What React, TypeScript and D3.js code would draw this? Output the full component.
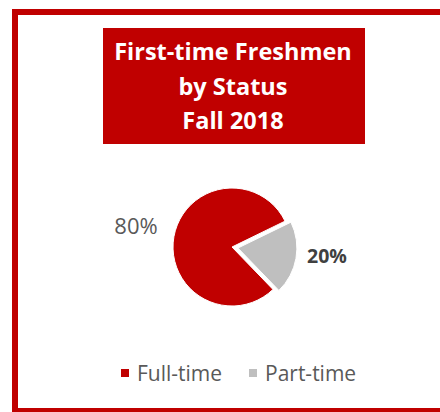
import React from "react";
import * as d3 from "d3";

const categories = ["Full-time", "Part-time"];
const values = [80, 20];
const labels = ["80%", "20%"];
const colors = ["#C00000", "#BFBFBF"];
const titleLines = ["First-time Freshmen", "by Status", "Fall 2018"];

const FONT = "'Open Sans', sans-serif";

export default function App() {
  const cx = 232;
  const cy = 247;
  const r = 59;
  const pie = d3
    .pie<number>()
    .sort(null)
    .startAngle((136 * Math.PI) / 180)
    .endAngle((136 * Math.PI) / 180 + 2 * Math.PI);
  const arcs = pie(values);
  const arc = d3.arc<d3.PieArcDatum<number>>().innerRadius(0).outerRadius(r);
  const explode = [0, 6];

  const labelPos = [
    { x: 136, y: 225, weight: 400, fill: "#595959", size: 22 },
    { x: 327, y: 255, weight: 700, fill: "#404040", size: 19.5 },
  ];

  const legendX = [121, 249];
  return (
    <svg
      width={440}
      height={412}
      style={{ position: "absolute", left: 0, top: 0, background: "#fff" }}
    >
      <rect x={15} y={12} width={440} height={399} fill="#fff" stroke="#C00000" strokeWidth={6} />
      <rect x={103} y={28} width={262} height={116} fill="#C00000" />
      {titleLines.map((t, i) => (
        <text
          key={i}
          x={233}
          y={60 + i * 34.5}
          textAnchor="middle"
          fill="#fff"
          fontFamily={FONT}
          fontWeight={700}
          fontSize={23.5}
        >
          {t}
        </text>
      ))}
      <g transform={`translate(${cx},${cy})`}>
        {arcs.map((a, i) => {
          const mid = (a.startAngle + a.endAngle) / 2;
          const dx = Math.sin(mid) * explode[i];
          const dy = -Math.cos(mid) * explode[i];
          return (
            <path
              key={i}
              d={arc(a) || ""}
              transform={`translate(${dx},${dy})`}
              fill={colors[i]}
              stroke="#fff"
              strokeWidth={1}
            />
          );
        })}
      </g>
      {labels.map((l, i) => (
        <text
          key={i}
          x={labelPos[i].x}
          y={labelPos[i].y}
          textAnchor="middle"
          dominantBaseline="central"
          fill={labelPos[i].fill}
          fontFamily={FONT}
          fontWeight={labelPos[i].weight}
          fontSize={labelPos[i].size}
        >
          {l}
        </text>
      ))}
      {categories.map((c, i) => (
        <g key={i}>
          <rect x={legendX[i]} y={369} width={8} height={8} fill={colors[i]} />
          <text
            x={legendX[i] + 16}
            y={381}
            fill="#595959"
            fontFamily={FONT}
            fontSize={21}
          >
            {c}
          </text>
        </g>
      ))}
    </svg>
  );
}
